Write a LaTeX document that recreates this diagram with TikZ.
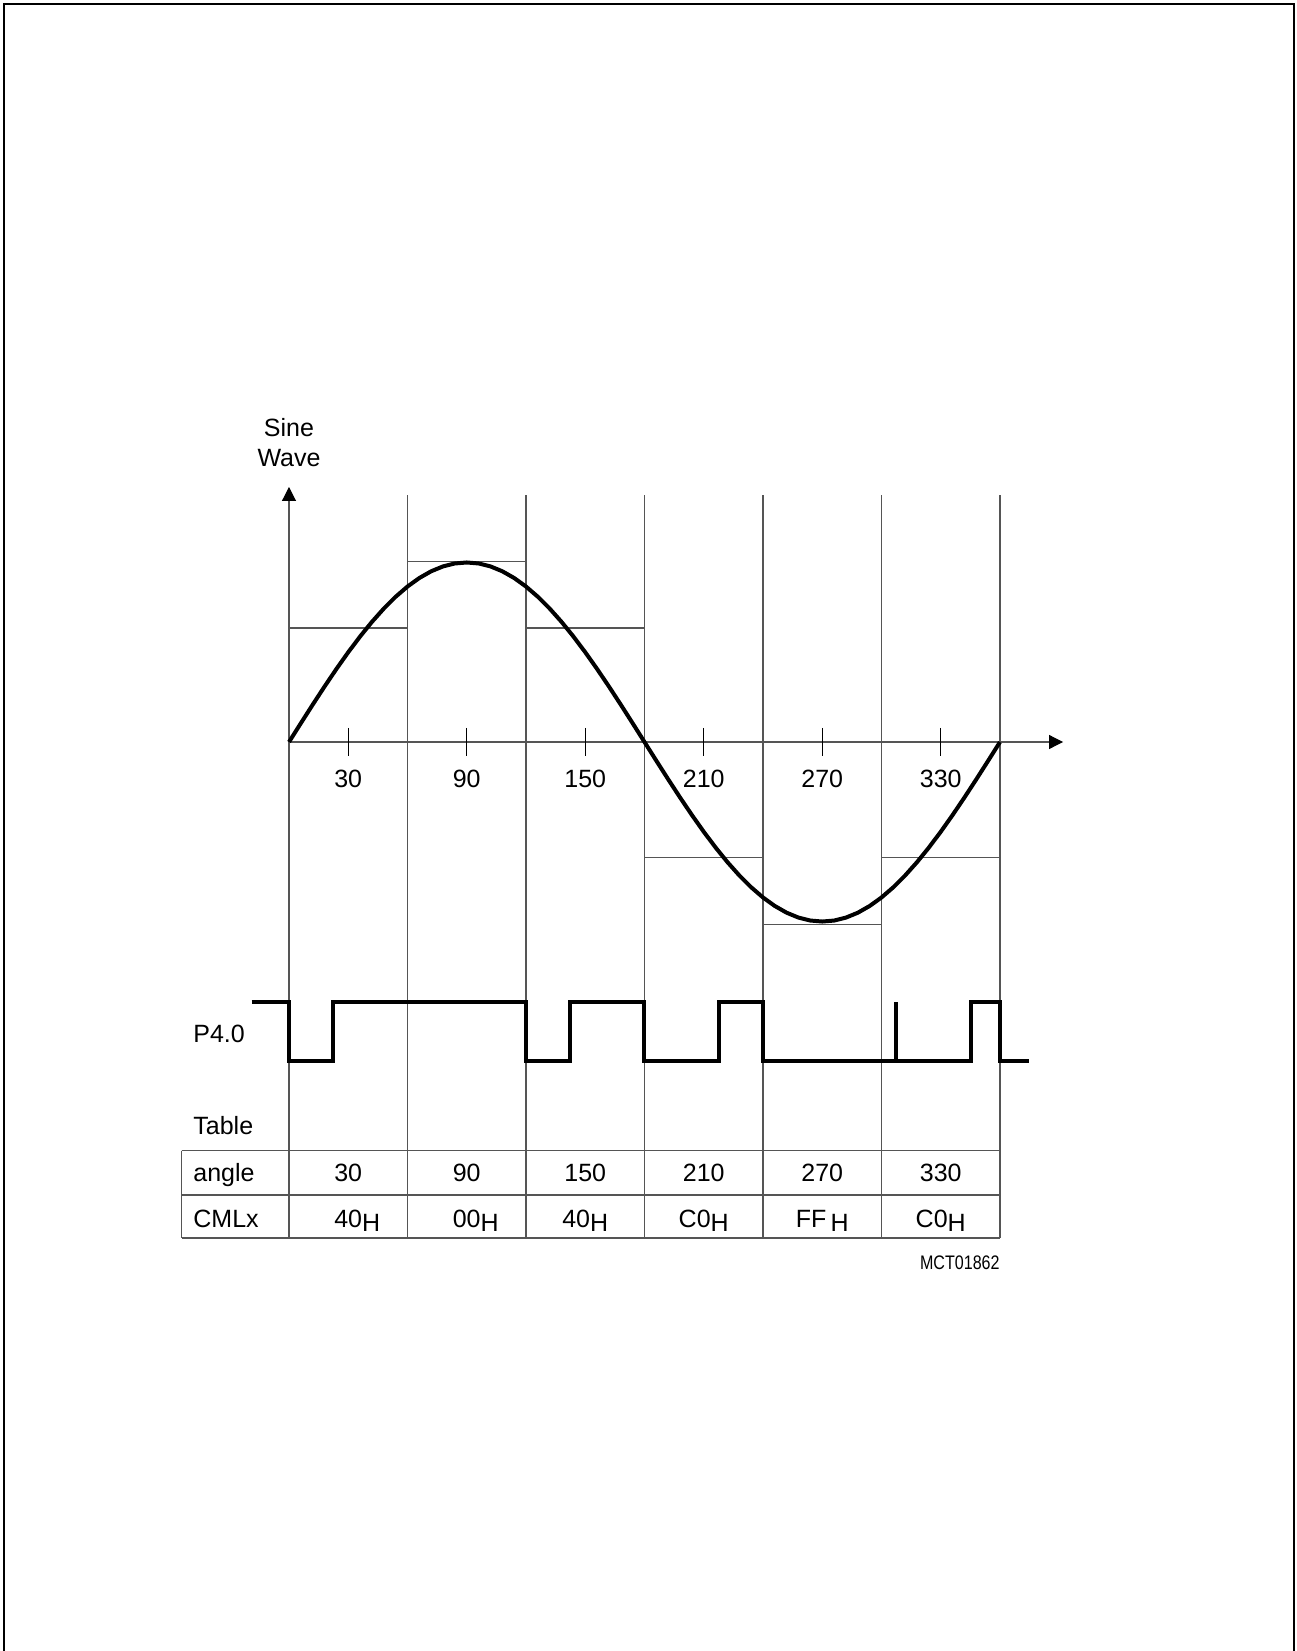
\documentclass[tikz,border=0pt]{standalone}
\usepackage{fontspec}
\setmainfont{Liberation Sans}
\newfontfamily\kodYazi{Liberation Sans}[FakeStretch=0.82]
\usepackage{tikz}
\usetikzlibrary{arrows.meta}
\definecolor{cizgiGri}{HTML}{555555}
\definecolor{dalgaSiyah}{HTML}{000000}

\begin{document}
\begin{tikzpicture}[x=59.25pt,y=59.25pt,
  every node/.style={font=\fontsize{12.5}{15}\selectfont,inner sep=0pt},
  ince/.style={cizgiGri,line width=0.55pt},
  kalin/.style={dalgaSiyah,line width=2pt},
  okucu/.style={-{Triangle[length=7pt,width=7pt,color=black]}}]
\useasboundingbox (-2.4388,-7.6709) rectangle (8.5063,6.2616);
\draw[line width=1.4pt] (-2.405,-7.7)--(-2.405,6.228)--(8.481,6.228)--(8.481,-7.7);
% grid and table
\draw[ince] (1,2.084)--(1,-4.186) (2,2.084)--(2,-4.186) (3,2.084)--(3,-4.186)
  (4,2.084)--(4,-4.186) (5,2.084)--(5,-4.186) (6,2.084)--(6,-4.186);
\draw[ince] (-0.906,-3.449)--(6,-3.449) (-0.906,-3.823)--(6,-3.823)
  (-0.906,-4.186)--(6,-4.186) (-0.906,-3.449)--(-0.906,-4.186);
\draw[ince] (0,0.962)--(1,0.962) (1,1.525)--(2,1.525) (2,0.962)--(3,0.962)
  (3,-0.973)--(4,-0.973) (4,-1.538)--(5,-1.538) (5,-0.973)--(6,-0.973);
\draw[ince,okucu] (0,-4.186)--(0,2.152);
\draw[ince,okucu] (0,0)--(6.532,0);
\draw[black,line width=0.6pt] (0.5,0.12)--(0.5,-0.12) (1.5,0.12)--(1.5,-0.12)
  (2.5,0.12)--(2.5,-0.12) (3.5,0.12)--(3.5,-0.12) (4.5,0.12)--(4.5,-0.12)
  (5.5,0.12)--(5.5,-0.12);
% waves
\draw[kalin,line join=round,domain=0:6,samples=61] plot (\x,{1.515*sin(60*\x)});
\draw[kalin] (-0.315,-2.194)--(0,-2.194)--(0,-2.689)--(0.371,-2.689)--(0.371,-2.194)
  --(2,-2.194)--(2,-2.689)--(2.368,-2.689)--(2.368,-2.194)--(3,-2.194)--(3,-2.689)
  --(3.629,-2.689)--(3.629,-2.194)--(4,-2.194)--(4,-2.689)--(5.753,-2.689)
  --(5.753,-2.194)--(6,-2.194)--(6,-2.689)--(6.245,-2.689);
\draw[kalin] (5.122,-2.689)--(5.122,-2.194);
% labels
\node[anchor=base] (sine) at (0,2.582) {Sine};
\node[anchor=base] (wave) at (0,2.321) {Wave};
\node[anchor=base] (x30) at (0.5,-0.38) {30};
\node[anchor=base] (x90) at (1.5,-0.38) {90};
\node[anchor=base] (x150) at (2.5,-0.38) {150};
\node[anchor=base] (x210) at (3.5,-0.38) {210};
\node[anchor=base] (x270) at (4.5,-0.38) {270};
\node[anchor=base] (x330) at (5.5,-0.38) {330};
\node[anchor=base west] (port) at (-0.81,-2.537) {P4.0};
\node[anchor=base west] (tablo) at (-0.81,-3.316) {Table};
\node[anchor=base west] (aci) at (-0.81,-3.713) {angle};
\node[anchor=base west] (cml) at (-0.81,-4.10) {CMLx};
\node[anchor=base] (a30) at (0.5,-3.713) {30};
\node[anchor=base] (a90) at (1.5,-3.713) {90};
\node[anchor=base] (a150) at (2.5,-3.713) {150};
\node[anchor=base] (a210) at (3.5,-3.713) {210};
\node[anchor=base] (a270) at (4.5,-3.713) {270};
\node[anchor=base] (a330) at (5.5,-3.713) {330};
\node[anchor=base] (c30) at (0.5,-4.10) {40\rlap{\raisebox{-2pt}{H}}};
\node[anchor=base] (c90) at (1.5,-4.10) {00\rlap{\raisebox{-2pt}{H}}};
\node[anchor=base] (c150) at (2.5,-4.10) {40\raisebox{-2pt}{H}};
\node[anchor=base] (c210) at (3.5,-4.10) {C0\raisebox{-2pt}{H}};
\node[anchor=base] (c270) at (4.5,-4.10) {FF\,\raisebox{-2pt}{H}};
\node[anchor=base] (c330) at (5.5,-4.10) {C0\raisebox{-2pt}{H}};
\node[anchor=base east,font=\kodYazi\fontsize{9.8}{12}\selectfont] (kod) at (6,-4.45) {MCT01862};
\end{tikzpicture}
\end{document}
